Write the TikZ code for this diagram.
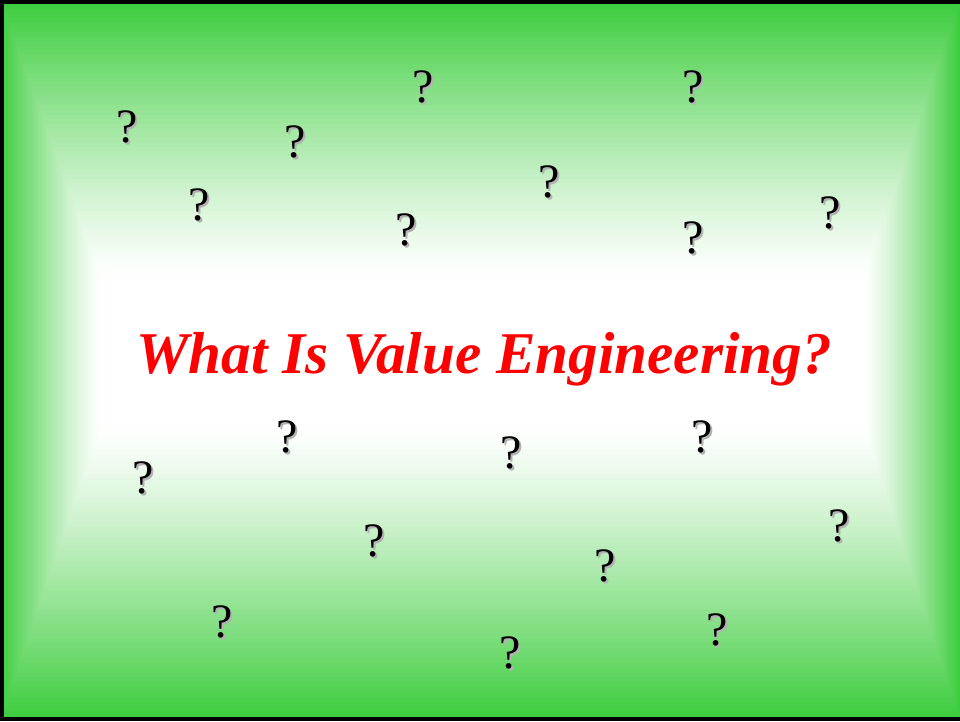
\documentclass[tikz,border=0pt]{standalone}
\usepackage{fontspec}
\setmainfont{Liberation Serif}
\usepackage{xcolor}

\definecolor{slidegreen}{RGB}{60,205,60}
\definecolor{titlered}{RGB}{255,0,0}

\tikzset{
	qmark/.style={inner sep=0pt, text=black, font=\fontsize{36}{40}\selectfont},
	qshadow/.style={qmark, text=black!30},
	title/.style={inner sep=0pt, anchor=base, text=titlered, font=\fontsize{44.4}{50}\selectfont\bfseries\itshape}
}

\begin{document}
\begin{tikzpicture}[x=0.75pt,y=-0.75pt]
	\useasboundingbox (0,0) rectangle (960,721);

	\foreach \i in {0,...,60}{
		\pgfmathsetmacro\t{\i/60}
		\pgfmathsetmacro\p{100*(1-\t)^1.2}
		\fill[slidegreen!\p!white] ({100*\t},{275*\t}) rectangle ({960-95*\t},{721-291*\t});
	}

	\draw[line width=2.4pt] (960,2) -- (2,2) -- (2,719) -- (960,719);

	\foreach \x/\y [count=\i] in {127/127, 423/87, 693/87, 295/142, 199/205, 549/182, 406/230, 693/238, 830/213,
		287/437, 143/478, 511/453, 702/437, 839/526, 374/541, 605/566, 222/622, 510/653, 717/630}{
		\node[qshadow] (s\i) at (\x+2,\y+2) {?};
		\node[qmark] (q\i) at (\x,\y) {?};
	}

	\node[title] (question) at (484,373) {What Is Value Engineering?};
\end{tikzpicture}
\end{document}
